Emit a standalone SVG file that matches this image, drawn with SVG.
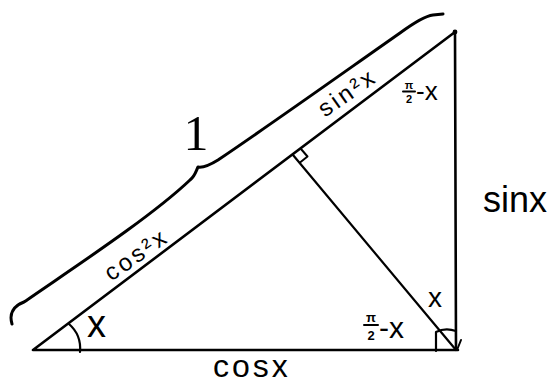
<svg xmlns="http://www.w3.org/2000/svg" width="548" height="385" viewBox="0 0 548 385">
<style>
.ln{fill:none;stroke:#000;stroke-linecap:round;stroke-linejoin:round}
.t{font-family:"Liberation Sans",Arial,sans-serif;fill:#000}
.fr{font-family:"Liberation Sans",Arial,sans-serif;font-weight:bold;fill:#000;text-anchor:middle}
</style>
<rect width="548" height="385" fill="#fff"/>
<g id="triangle">
<path class="ln" stroke-width="2.6" d="M33,350 L458,350 M455,32 L456,350 M33,350 L455,32"/>
<circle cx="455" cy="32" r="2.4" fill="#000"/>
</g>
<g id="altitude">
<path class="ln" stroke-width="2.2" d="M293,155 L456,350"/>
<path class="ln" stroke-width="2" d="M301,149 L307.5,156.5 L300,162.5"/>
</g>
<g id="brace">
<path class="ln" stroke-width="3" d="M12,324 C9,314 13,306 24,302 C70,270 150,218 190,180 C195,176 196,171 198,167 C204,168 210,165 218,160 C270,125 350,68 400,33 C415,22 425,16 433,15 L443,14"/>
</g>
<g id="angle-marks">
<path class="ln" stroke-width="2.2" d="M69,324 C77,331 81,341 80,352"/>
<path class="ln" stroke-width="2.2" d="M436,351 L436,332 C442,329 450,329 456,331"/>
<path class="ln" stroke-width="2" d="M461,340 L457,350"/>
</g>
<g id="labels">
<text class="t" x="196" y="150" style="font-family:'Liberation Serif',serif" font-size="50" text-anchor="middle">1</text>
<text class="t" font-size="24" letter-spacing="3" text-anchor="middle" transform="translate(352,99) rotate(-35)">sin²x</text>
<text class="t" font-size="24" letter-spacing="3" text-anchor="middle" transform="translate(141,261) rotate(-35)">cos²x</text>
<text class="fr" x="409" y="89" font-size="11">π</text>
<line class="ln" stroke-width="2" x1="403" y1="91.5" x2="415" y2="91.5"/>
<text class="fr" x="409" y="103" font-size="11">2</text>
<text class="t" x="416" y="100" font-size="26">-x</text>
<text class="fr" x="371" y="322" font-size="13">π</text>
<line class="ln" stroke-width="2" x1="364" y1="325" x2="378" y2="325"/>
<text class="fr" x="371" y="340" font-size="13">2</text>
<text class="t" x="379" y="338" font-size="30">-x</text>
<text class="t" x="428" y="307" font-size="28">x</text>
<text class="t" x="87" y="337" font-size="38">x</text>
<text class="t" x="483" y="212" font-size="36">sinx</text>
<text class="t" x="213" y="377" font-size="32" letter-spacing="3">cosx</text>
</g>
</svg>
